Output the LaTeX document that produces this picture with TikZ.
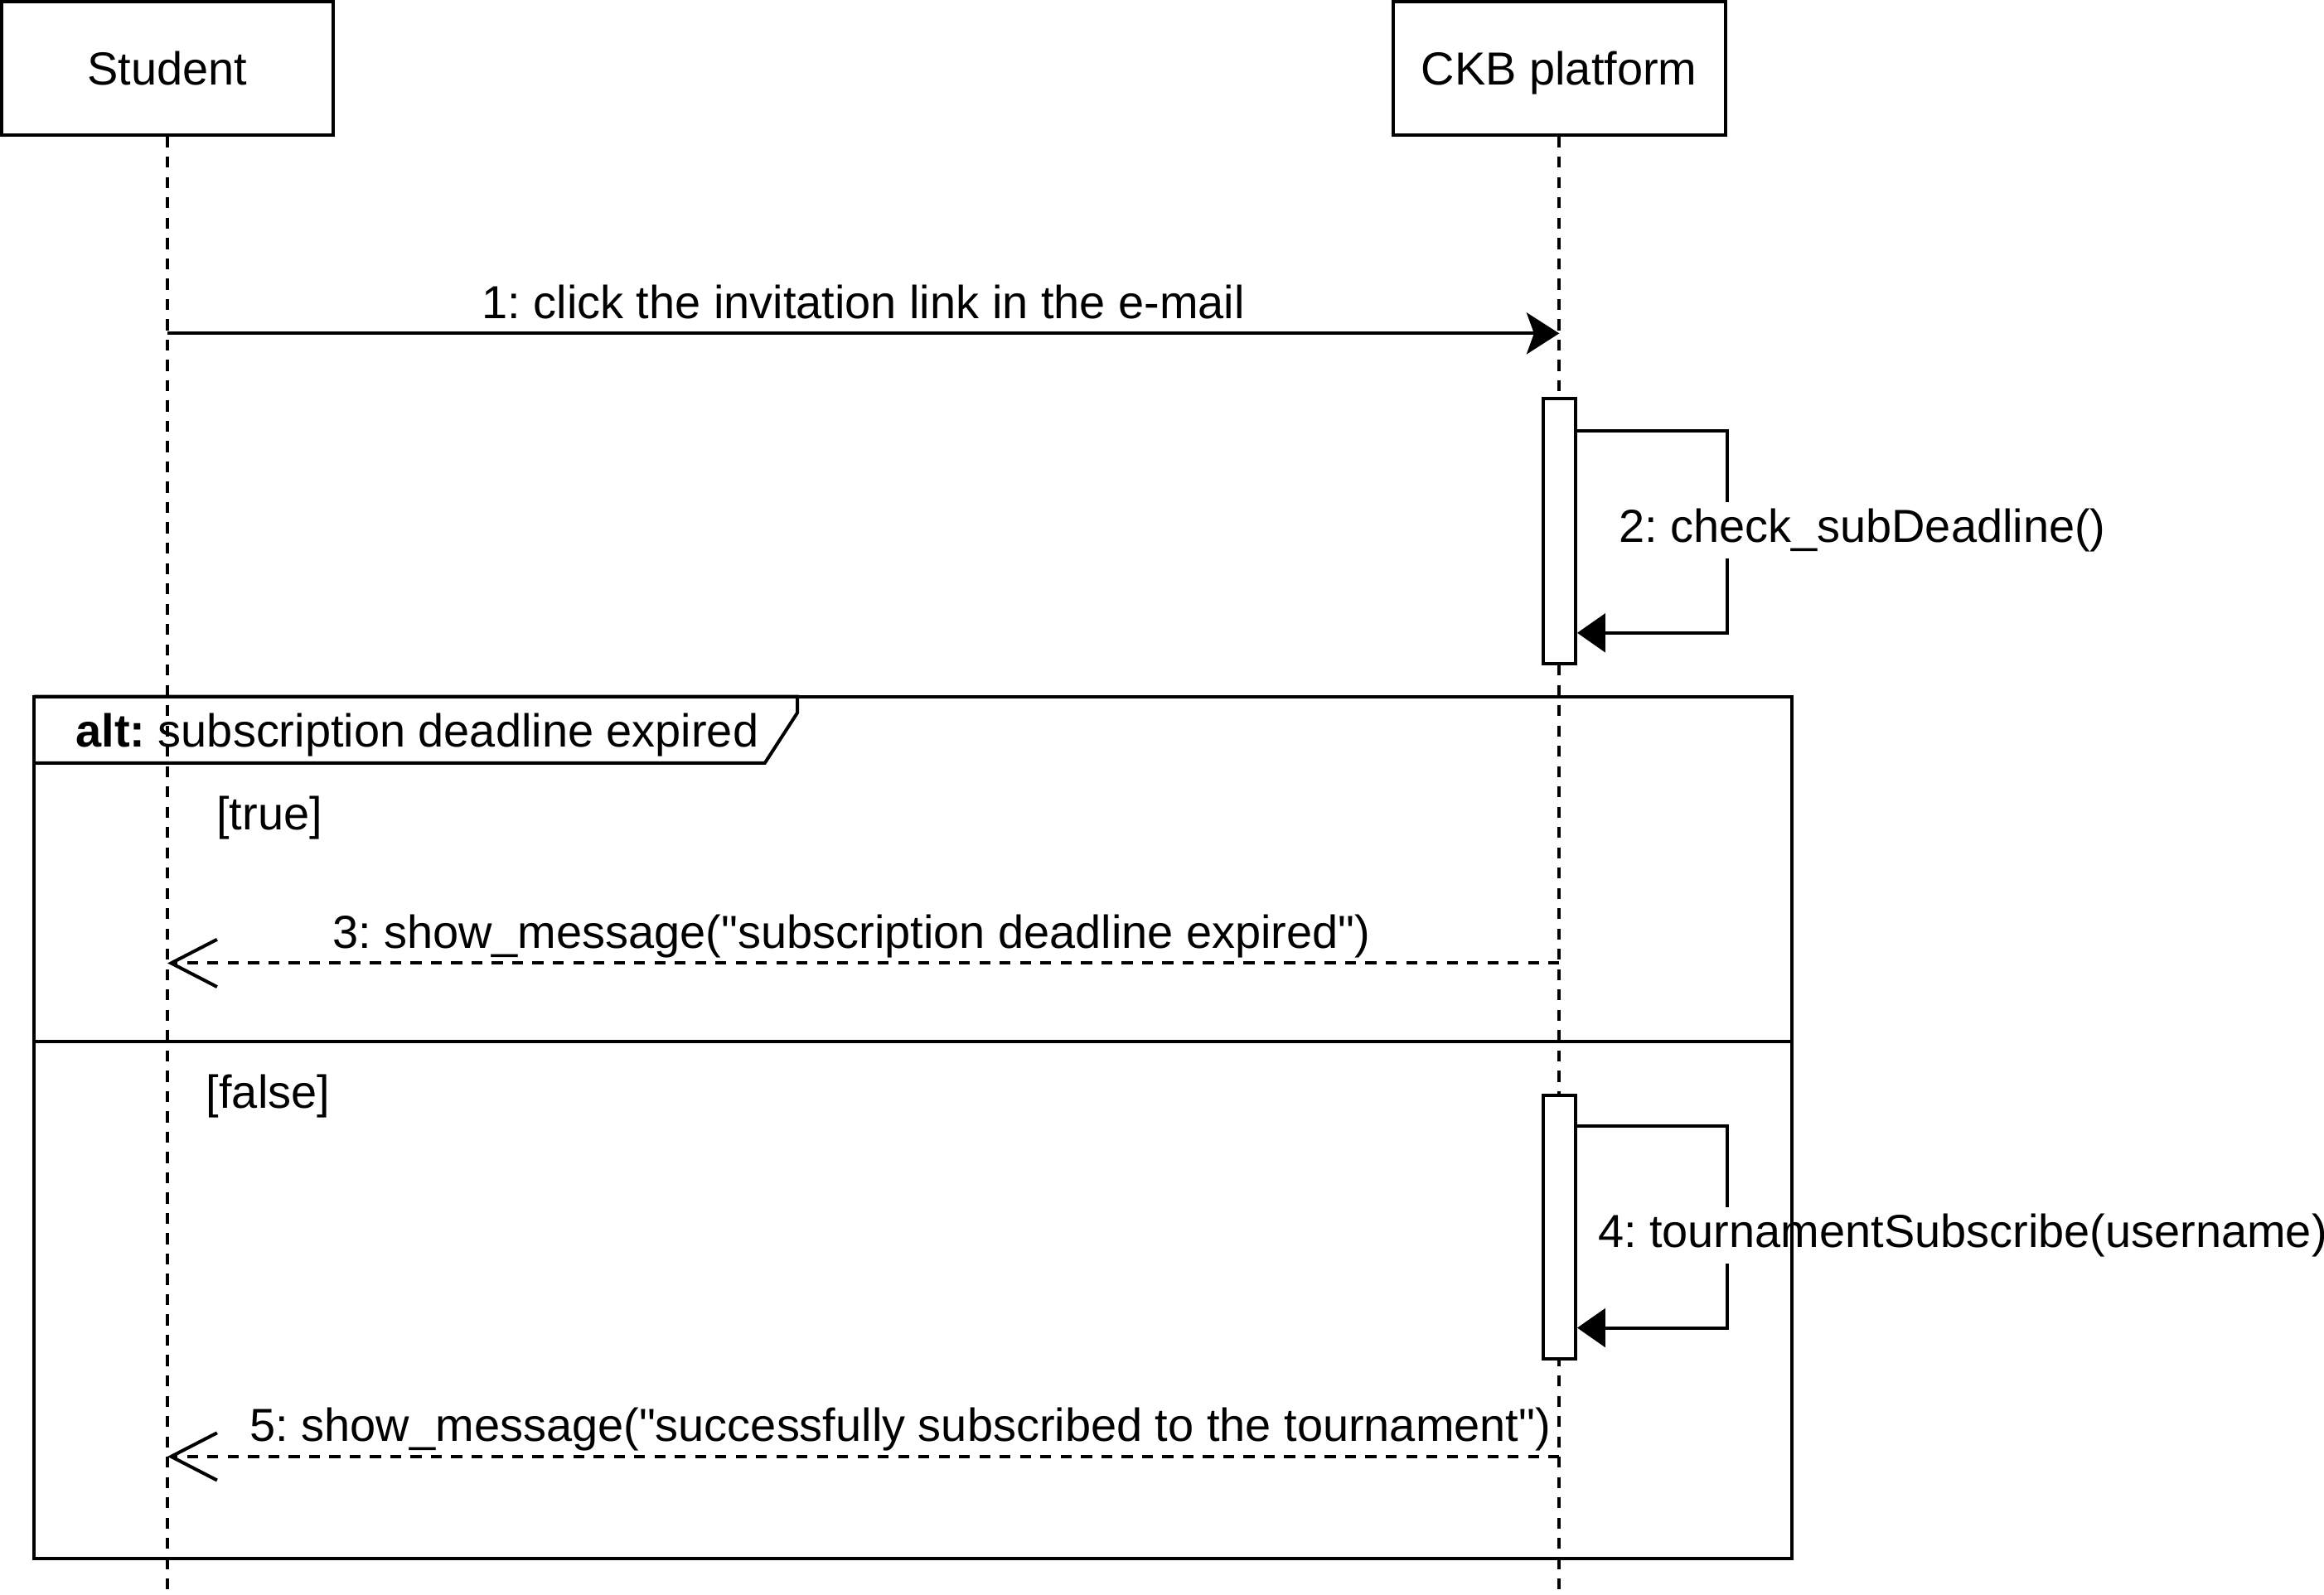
\documentclass[tikz,border=0pt]{standalone}
\usepackage{fontspec}
\setmainfont{Liberation Sans}
\usetikzlibrary{arrows.meta}
\frenchspacing

\begin{document}
\begin{tikzpicture}[
  line width=0.64pt,
  actor/.style={draw, minimum width=2.24cm, minimum height=0.90cm,
    inner sep=0pt, text height=0.23cm, text depth=0pt},
  lifeline/.style={dash pattern=on 2.1pt off 1.8pt},
  activation/.style={draw, fill=white, minimum width=0.22cm, inner sep=0pt},
  call/.style={-{Stealth[length=0.22cm, width=0.28cm, inset=0.05cm]}},
  selfcall/.style={-{Triangle[length=0.19cm, width=0.26cm]}},
  reply/.style={dash pattern=on 2.1pt off 1.8pt,
    -{Straight Barb[length=0.31cm, width=0.32cm]}},
  msg/.style={inner sep=0pt, text height=0.23cm, text depth=0.07cm},
  selfmsg/.style={fill=white, inner sep=0.04cm, anchor=west,
    text height=0.23cm, text depth=0.07cm},
  guard/.style={anchor=west, inner sep=0pt, text height=0.23cm, text depth=0.07cm},
  altbox/.style={draw, minimum width=11.86cm, minimum height=5.82cm,
    inner sep=0pt, outer sep=0pt},
  every node/.style={font=\fontsize{8.9}{10.7}\selectfont}
]
\useasboundingbox (0,0) rectangle (15.68,-10.76);

\node[actor] (student) at (1.13,-0.46) {Student};
\node[actor] (ckb) at (10.52,-0.46) {CKB platform};

\coordinate (studentEnd) at (1.13,-10.76);
\coordinate (ckbEnd) at (10.52,-10.76);
\draw[lifeline] (student) -- (studentEnd);
\draw[lifeline] (ckb) -- (ckbEnd);

\node[activation, minimum height=1.79cm] (act1) at (10.52,-3.585) {};
\node[activation, minimum height=1.78cm] (act2) at (10.52,-8.28) {};

\coordinate (s1) at (1.13,-2.25);
\coordinate (c1) at (10.52,-2.25);
\draw[call] (s1) -- node[msg, above=0.02cm] (m1)
  {1: click the invitation link in the e-mail} (c1);

\draw[selfcall] ([yshift=-0.23cm]act1.north east) -- ++(1.01,0)
  |- ([yshift=0.22cm]act1.south east);
\node[selfmsg] (m2) at (10.87,-3.58) {2: check\_subDeadline()};

\coordinate (c3) at (10.52,-6.50);
\coordinate (s3) at (1.13,-6.50);
\draw[reply] (c3) -- node[msg, above=0.02cm, xshift=-0.08cm] (m3)
  {3: show\_message(\textquotedbl subscription deadline expired\textquotedbl)} (s3);

\draw[selfcall] ([yshift=-0.22cm]act2.north east) -- ++(1.01,0)
  |- ([yshift=0.22cm]act2.south east);
\node[selfmsg] (m4) at (10.73,-8.34) {4: tournamentSubscribe(username)};

\coordinate (c5) at (10.52,-9.83);
\coordinate (s5) at (1.13,-9.83);
\draw[reply] (c5) -- node[msg, above=0.02cm, xshift=0.25cm] (m5)
  {5: show\_message(\textquotedbl successfully subscribed to the tournament\textquotedbl)} (s5);

\node[altbox] (alt) at (6.16,-7.61) {};
\draw (alt.north west) -- ++(5.15,0) -- ++(0,-0.11) -- ++(-0.22,-0.34) -- ++(-4.93,0);
\draw (alt.west |- 0,-7.03) -- (alt.east |- 0,-7.03);
\node[guard] (altTitle) at (0.50,-4.96) {\textbf{alt:} subscription deadline expired};
\node[guard] (guardTrue) at (1.45,-5.52) {[true]};
\node[guard] (guardFalse) at (1.38,-7.40) {[false]};
\end{tikzpicture}
\end{document}
